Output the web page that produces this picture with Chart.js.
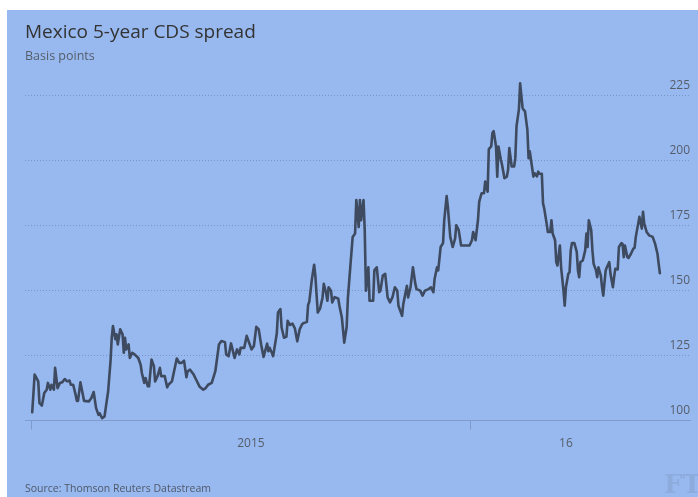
<!DOCTYPE html>
<html>
<head>
<meta charset="utf-8">
<title>Mexico 5-year CDS spread</title>
<script src="https://cdn.jsdelivr.net/npm/chart.js@4.4.0/dist/chart.umd.min.js"></script>
<style>
  html, body { margin: 0; padding: 0; background: #fff; }
  #wrap { width: 698px; height: 497px; }
</style>
</head>
<body>
<div id="wrap"><canvas id="cdsChart" width="698" height="497"></canvas></div>
<script>
// Data (days since 1 Jan 2015, spread in basis points)
const days = [
  1, 3, 6, 7, 9, 11, 13, 14, 16, 17,
  19, 20, 22, 24, 26, 28, 30, 32, 33, 35,
  37, 38, 39, 41, 43, 44, 48, 50, 52, 54,
  56, 57, 59, 61, 62, 64, 66, 67, 68, 70,
  71, 72, 74, 76, 77, 78, 79, 81, 82, 84,
  86, 89, 91, 92, 94, 95, 97, 98, 100, 102,
  103, 105, 107, 108, 111, 113, 114, 117, 119, 121,
  123, 125, 127, 129, 130, 132, 135, 137, 140, 143,
  145, 147, 150, 153, 156, 158, 161, 162, 164, 166,
  169, 171, 173, 174, 177, 179, 180, 183, 185, 187,
  189, 191, 193, 196, 197, 198, 200, 201, 204, 205,
  207, 208, 210, 212, 213, 215, 217, 219, 221, 223,
  225, 226, 229, 230, 231, 233, 235, 236, 238, 240,
  242, 243, 245, 246, 247, 249, 250, 252, 255, 256,
  258, 260, 262, 263, 265, 267, 269, 270, 272, 273,
  274, 276, 277, 278, 280, 281, 284, 285, 287, 289,
  290, 292, 294, 296, 298, 300, 302, 304, 305, 308,
  309, 312, 313, 315, 317, 319, 320, 323, 325, 327,
  330, 332, 334, 335, 337, 338, 340, 342, 343, 345,
  346, 348, 350, 352, 353, 355, 357, 360, 364, 366,
  367, 369, 371, 372, 374, 376, 377, 379, 380, 382,
  383, 384, 386, 387, 388, 390, 391, 393, 395, 396,
  397, 399, 401, 402, 403, 405, 406, 408, 409, 410,
  412, 413, 414, 415, 417, 418, 420, 421, 422, 424,
  425, 426, 428, 429, 431, 432, 433, 435, 436, 437,
  439, 440, 442, 443, 444, 446, 447, 448, 449, 451,
  453, 454, 455, 456, 458, 460, 461, 462, 463, 465,
  466, 467, 469, 470, 471, 473, 474, 475, 477, 478,
  480, 481, 483, 484, 485, 487, 488, 490, 491, 492,
  493, 495, 496, 498, 500, 501, 502, 504, 505, 507,
  508, 509, 511, 513, 516, 518, 520, 521, 522
];
const spread = [
  103.2, 117.7, 115.1, 106.7, 105.8, 110.6, 111.9, 114.5, 111.9, 113.8,
  111.9, 120.3, 112.5, 114.5, 114.8, 116, 115.1, 115.4, 113.8, 113.8,
  110, 107.6, 107.6, 114.7, 110, 107.6, 107.4, 108.6, 111, 104.8,
  102.2, 102.8, 100.9, 101.6, 104.8, 111.2, 122.9, 131.9, 136.4, 131.3,
  133.2, 129.3, 135.1, 133.2, 126.1, 131.9, 127.4, 129.3, 124.1, 126.1,
  125.5, 124.1, 121.5, 118.3, 114.5, 116.4, 113.2, 113.2, 123.5, 120.9,
  115.1, 117.1, 120.3, 117.1, 117.1, 112.8, 113.8, 115.1, 119.6, 123.9,
  122.2, 122.2, 123.1, 116.7, 119, 119.6, 117.7, 115.8, 113, 111.9,
  112.5, 113.8, 114.5, 119, 129.3, 130.6, 130.2, 125.5, 124.8, 129.7,
  124.1, 127.4, 125.5, 128, 128, 132.6, 131.3, 127.4, 128.7, 136.1,
  135.1, 129.3, 124.5, 129.6, 126.7, 128, 126, 124.8, 133.5, 141.6,
  142.9, 135.8, 131.9, 132.3, 138.4, 136.8, 137.3, 135.5, 130.5, 135.1,
  137.1, 137.5, 138, 144.5, 145.8, 153.9, 160, 155.8, 141.6, 143.2,
  147.4, 152.6, 149, 146.1, 151.3, 150, 145.5, 147.5, 147, 144.2,
  139.7, 130, 136, 147, 159, 170.7, 172, 184.9, 174.5, 184.9,
  177.1, 184.9, 173.3, 150, 159, 146.1, 146.1, 157.8, 159, 149.4,
  150, 155.8, 156.5, 147.4, 145.5, 147.4, 151.3, 150, 144.2, 140.3,
  144.8, 151.9, 147.4, 151.3, 159, 152.6, 150.6, 150, 148.1, 150,
  150.6, 151.3, 149.4, 154.5, 159, 157.8, 166.8, 168.3, 177.1, 186.4,
  182.3, 170.7, 166.8, 170, 175.2, 173.3, 167.4, 167.4, 167.4, 169.4,
  172.6, 169.4, 177.1, 184.2, 187.5, 187.5, 192, 188.1, 204.5, 205.5,
  210.7, 211.4, 205.5, 193.9, 205.5, 200.4, 198.4, 193.3, 193.9, 196.5,
  204.9, 197.8, 197.8, 201, 213.3, 219.8, 229.8, 220.4, 219.5, 219.1,
  212, 201, 203.6, 200.4, 193.9, 195.2, 194, 195.8, 195, 195,
  183.6, 181.6, 175.8, 172.6, 172.6, 177.1, 172, 169.4, 161, 159.7,
  167.4, 159, 150, 144.2, 151.3, 156.5, 157.1, 165.5, 168.3, 168.3,
  164.9, 157.8, 155.2, 161, 161.6, 165.5, 172, 166.8, 177.1, 173.3,
  165.5, 160.3, 157.8, 155.2, 159, 155.8, 151.3, 148.1, 157.8, 159,
  161, 156.5, 151.3, 155.2, 158.4, 158.2, 166.8, 168.3, 168, 162.9,
  167.4, 162.9, 162.6, 164.2, 166.2, 166.5, 170.7, 175.8, 178.4, 173.9,
  180.4, 175.8, 172.6, 171.3, 170.7, 168.1, 164.2, 160.3, 156.7
];

// Axis ticks
const yTicks = [100, 125, 150, 175, 200, 225];
const yearStarts = [0, 365];          // 1 Jan 2015, 1 Jan 2016
const yearLabelDays = [182.5, 444];   // labels sit in the middle of each year's span
const yearLabels = ['2015', '16'];

const FONT = '"Open Sans", "Noto Sans", sans-serif';
const BG = '#98b9ef';
const AXIS = '#7f9acb';

// Background panel, source line and logo
const panel = {
  id: 'panel',
  beforeDraw(chart) {
    const c = chart.ctx;
    c.save();
    c.fillStyle = '#fff';
    c.fillRect(0, 0, chart.width, chart.height);
    c.fillStyle = BG;
    c.fillRect(7, 10, chart.width - 7, chart.height - 10);
    c.restore();
  },
  afterDraw(chart) {
    const c = chart.ctx;
    c.save();
    c.fillStyle = '#4f5868';
    c.font = '10.5px ' + FONT;
    c.textBaseline = 'middle';
    c.fillText('Source: Thomson Reuters Datastream', 25, 489);
    c.fillStyle = 'rgba(120, 140, 180, 0.3)';
    c.font = 'bold 26px "DejaVu Serif", serif';
    c.textBaseline = 'alphabetic';
    c.fillText('FT', 664, 493);
    c.restore();
  }
};

new Chart(document.getElementById('cdsChart'), {
  type: 'line',
  data: {
    datasets: [{
      data: days.map((d, i) => ({ x: d, y: spread[i] })),
      borderColor: '#3d4a60',
      borderWidth: 2.6,
      pointRadius: 0,
      tension: 0,
      borderJoinStyle: 'round',
      borderCapStyle: 'round'
    }]
  },
  options: {
    responsive: false,
    animation: false,
    devicePixelRatio: 1,
    layout: { padding: { top: 0, left: 25, right: 8, bottom: 39 } },
    plugins: {
      legend: { display: false },
      tooltip: { enabled: false },
      title: {
        display: true,
        text: 'Mexico 5-year CDS spread',
        align: 'start',
        color: '#333',
        font: { family: FONT, size: 19, weight: 'normal' },
        padding: { top: 21, bottom: 0 }
      },
      subtitle: {
        display: true,
        text: 'Basis points',
        align: 'start',
        color: '#555d6a',
        font: { family: FONT, size: 12.5, weight: 'normal' },
        padding: { top: 5, bottom: 6 }
      }
    },
    scales: {
      x: {
        type: 'linear',
        min: -5,
        max: 547,
        afterBuildTicks: axis => {
          axis.ticks = [...yearStarts, ...yearLabelDays].sort((a, b) => a - b).map(v => ({ value: v }));
        },
        ticks: {
          autoSkip: false,
          maxRotation: 0,
          padding: 7,
          color: '#555d6a',
          font: { family: FONT, size: 12 },
          callback: v => {
            const i = yearLabelDays.indexOf(v);
            return i >= 0 ? yearLabels[i] : '';
          }
        },
        grid: {
          drawOnChartArea: false,
          tickLength: 9,
          tickColor: c => yearStarts.includes(c.tick && c.tick.value) ? AXIS : 'rgba(0,0,0,0)'
        },
        border: { display: true, color: AXIS, width: 1 }
      },
      y: {
        type: 'linear',
        position: 'right',
        min: 100,
        max: 235,
        afterBuildTicks: axis => {
          axis.ticks = yTicks.map(v => ({ value: v }));
        },
        ticks: {
          mirror: true,
          padding: 0,
          labelOffset: -10,
          color: '#555d6a',
          font: { family: FONT, size: 12 }
        },
        grid: {
          drawTicks: false,
          lineWidth: 1,
          color: c => (c.tick && c.tick.value === 100) ? 'rgba(0,0,0,0)' : 'rgba(85, 105, 150, 0.45)'
        },
        border: { display: false, dash: [1, 2] }
      }
    }
  },
  plugins: [panel]
});
</script>
</body>
</html>
